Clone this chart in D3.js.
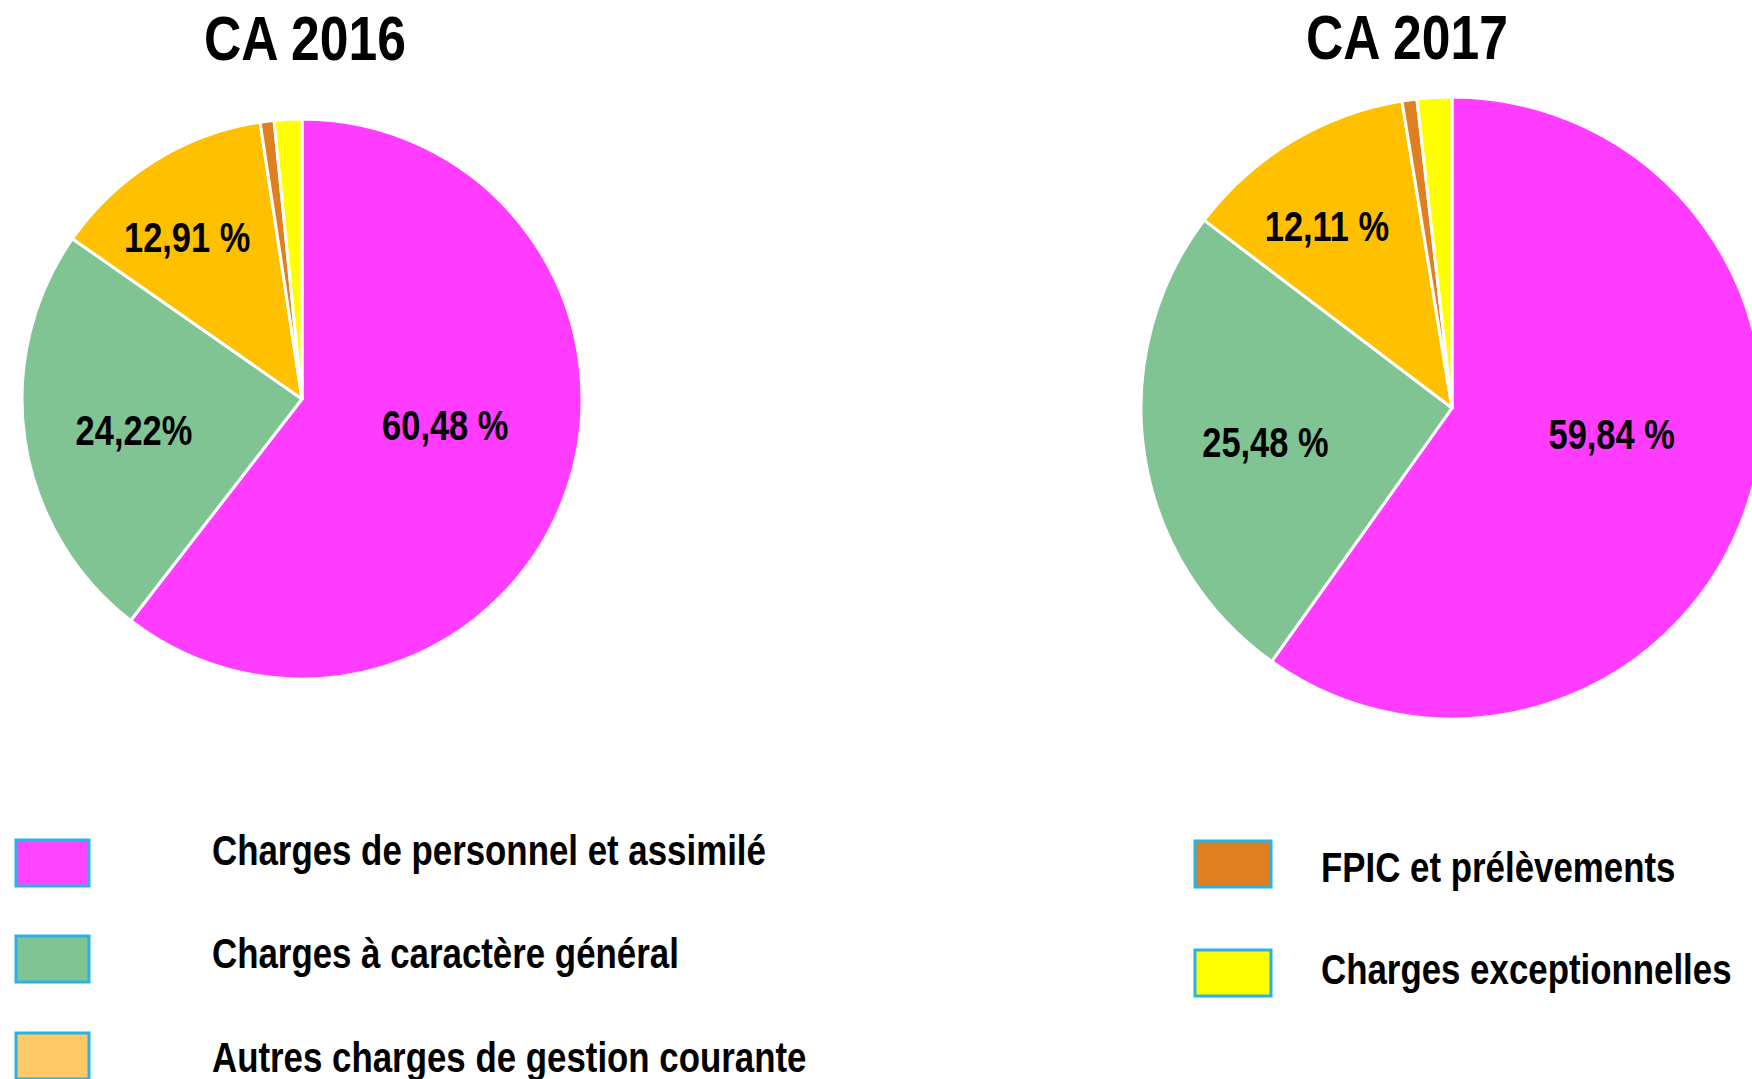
<!DOCTYPE html>
<html>
<head>
<meta charset="utf-8">
<script src="https://cdn.jsdelivr.net/npm/d3@7"></script>
<style>
  body { margin: 0; background: #fff; overflow: hidden; }
  svg text { font-family: "Liberation Sans", Arial, sans-serif; font-weight: bold; fill: #000; }
</style>
</head>
<body>
<script>
  //slice categories (clockwise from 12 o'clock)
  var categories = ["Charges de personnel et assimilé", "Charges à caractère général", "Autres charges de gestion courante", "FPIC et prélèvements", "Charges exceptionnelles"];
  var years = ["CA 2016", "CA 2017"];
  var values2016 = [60.48, 24.22, 12.91, 0.80, 1.59]; //percent
  var values2017 = [59.84, 25.48, 12.11, 0.77, 1.80];
  var labels2016 = ["60,48 %", "24,22%", "12,91 %", "", ""];
  var labels2017 = ["59,84 %", "25,48 %", "12,11 %", "", ""];

  var sliceColors = ["#ff3cff", "#80c494", "#ffc000", "#e07f20", "#ffff00"];
  var legendColors = ["#ff44ff", "#80c494", "#ffc965", "#e07f20", "#ffff00"];

  var width = 1752;
  var height = 1079;
  var narrow = 0.82; //squeeze Liberation Sans to look like Arial Narrow

  var svg = d3.select("body")
              .append("svg")
              .attr("width", width)
              .attr("height", height);

  //draw a squeezed text at x,y
  function narrowText(parent, x, y, size, anchor, str) {
    return parent.append("text")
                 .attr("transform", "translate(" + x + "," + y + ") scale(" + narrow + ",1)")
                 .attr("text-anchor", anchor)
                 .style("font-size", size + "px")
                 .text(str);
  }

  //pie layouts: center, radius, title position
  var pies = [
    {title: years[0], values: values2016, labels: labels2016, cx: 302, cy: 399, r: 280, titleX: 305, titleY: 60},
    {title: years[1], values: values2017, labels: labels2017, cx: 1452, cy: 408, r: 311, titleX: 1407, titleY: 59}
  ];

  //label placement relative to slice (radius fraction, angle shift in radians)
  var labelRadius = [0.52, 0.61, 0.71];
  var labelShift = [-0.15, -0.03, -0.06];

  var pie = d3.pie().sort(null).value(function(d) { return d; });

  pies.forEach(function(p) {
    var g = svg.append("g")
               .attr("transform", "translate(" + p.cx + "," + p.cy + ")");

    var arc = d3.arc().innerRadius(0).outerRadius(p.r);
    var arcs = pie(p.values);

    g.selectAll(".slice")
     .data(arcs)
     .enter().append("path")
       .attr("class", "slice")
       .attr("d", arc)
       .style("fill", function(d, i) { return sliceColors[i]; })
       .style("stroke", "#fff")
       .style("stroke-width", 3)
       .style("stroke-linejoin", "round");

    arcs.forEach(function(d) {
      if (p.labels[d.index] === "") return;
      var a = (d.startAngle + d.endAngle) / 2 + labelShift[d.index];
      var lr = p.r * labelRadius[d.index];
      narrowText(g, lr * Math.sin(a), -lr * Math.cos(a) + 15, 42, "middle", p.labels[d.index]);
    });

    narrowText(svg, p.titleX, p.titleY, 63, "middle", p.title);
  });

  //legend: two columns
  var legendPos = [
    {x: 16, y: 840}, {x: 16, y: 936}, {x: 16, y: 1033},
    {x: 1195, y: 841}, {x: 1195, y: 950}
  ];
  var legendTextX = [212, 212, 212, 1321, 1321];
  var legendTextY = [865, 968, 1072, 882, 984];

  var legend = svg.selectAll(".legend")
                  .data(categories)
                  .enter().append("g")
                  .attr("class", "legend");

  legend.append("rect")
        .attr("x", function(d, i) { return legendPos[i].x; })
        .attr("y", function(d, i) { return legendPos[i].y; })
        .attr("width", function(d, i) { return i < 3 ? 73 : 76; })
        .attr("height", 46)
        .style("fill", function(d, i) { return legendColors[i]; })
        .style("stroke", "#29b2e6")
        .style("stroke-width", 3);

  legend.each(function(d, i) {
    narrowText(d3.select(this), legendTextX[i], legendTextY[i], 42.5, "start", d);
  });
</script>
</body>
</html>
